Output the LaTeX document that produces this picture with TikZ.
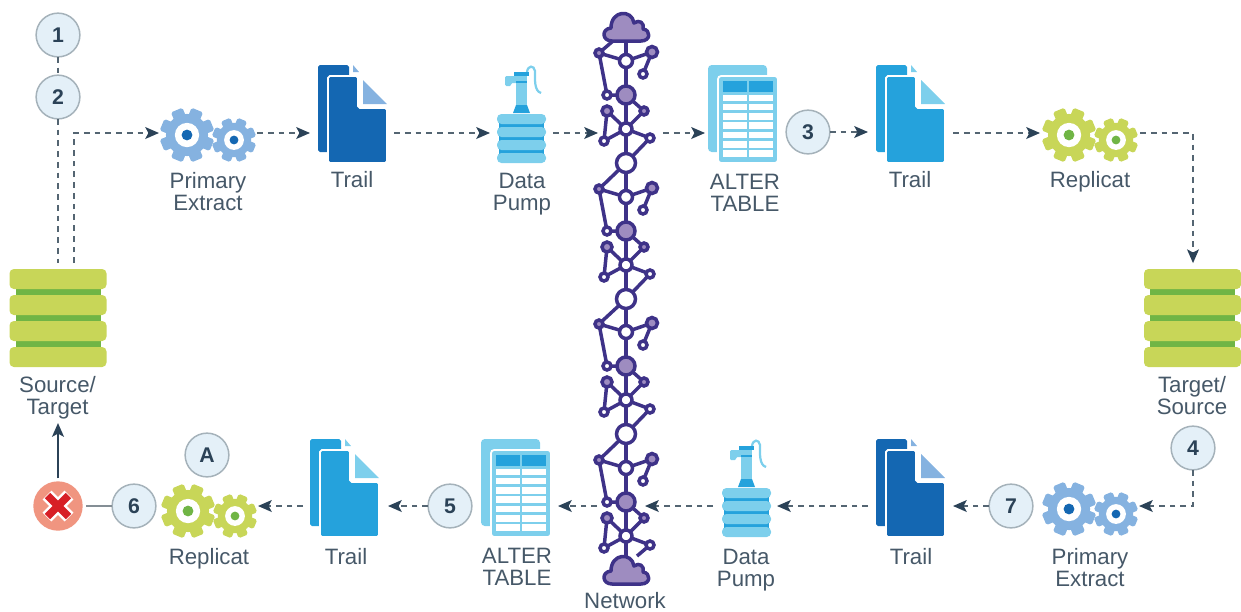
\documentclass[tikz,border=0pt]{standalone}
\usepackage{fontspec}
\setmainfont{Liberation Sans}
\usetikzlibrary{arrows.meta}

\definecolor{cinkblue}{RGB}{20,103,178}
\definecolor{cpaleblue}{RGB}{133,178,224}
\definecolor{cskyblue}{RGB}{37,162,220}
\definecolor{cpalesky}{RGB}{125,207,236}
\definecolor{climeback}{RGB}{200,214,88}
\definecolor{cgreen}{RGB}{112,181,69}
\definecolor{cnetline}{RGB}{62,50,136}
\definecolor{cnetfill}{RGB}{158,140,192}
\definecolor{cflow}{RGB}{84,101,114}
\definecolor{ctip}{RGB}{43,66,87}
\definecolor{clabel}{RGB}{70,88,104}
\definecolor{cbadge}{RGB}{228,240,248}
\definecolor{cbadgeline}{RGB}{165,178,186}
\definecolor{cerrback}{RGB}{240,149,128}
\definecolor{cerrmark}{RGB}{215,31,38}

\tikzset{
  iconbox/.style={inner sep=0pt,minimum width=#1*0.8pt,minimum height=48pt},
  badge/.style={circle,draw=cbadgeline,fill=cbadge,line width=1.2pt,inner sep=0pt,
    minimum size=35pt,text=ctip,font=\fontsize{17}{17}\selectfont\bfseries},
  caption/.style={align=center,text=clabel,font=\fontsize{17.8}{17.6}\selectfont},
  plainflow/.style={draw=cflow,line width=1.25pt,dash pattern=on 4.6pt off 4pt},
  flow/.style={plainflow,-{Stealth[length=11pt,width=9.5pt,inset=2.5pt,color=ctip]}},
  netdot/.style={circle,draw=cnetline,line width=2.8pt,inner sep=0pt,minimum size=#1*0.8pt},
  netlink/.style={draw=cnetline,line width=2.8pt},
}

% one cog: x, y, outer radius, body colour, centre colour
\newcommand{\cogwheel}[5]{
  \foreach \a in {22.5,67.5,...,360} {
    \fill[#4,shift={(#1,#2)},rotate=\a,rounded corners=1.4pt] (-0.23*#3,0) rectangle (0.23*#3,#3);
  }
  \fill[#4] (#1,#2) circle ({0.78*#3});
  \fill[white] (#1,#2) circle ({0.45*#3});
  \fill[#5] (#1,#2) circle ({0.2*#3});
}
% x, y of the big cog, body colour, centre colour
\newcommand{\cogpair}[4]{
  \cogwheel{#1}{#2}{27}{#3}{#4}
  \cogwheel{#1+47}{#2+5}{22}{#3}{#4}
}
% x, y of the top left corner, main colour, fold colour
\newcommand{\trailicon}[4]{
  \begin{scope}[shift={(#1,#2)}]
    \fill[#3,rounded corners=1.5pt] (0,0) rectangle (31,87);
    \fill[#4] (35,0) -- (41,7) -- (35,7) -- cycle;
    \path[fill=#3,draw=white,line width=1.5pt,rounded corners=1.5pt] (10,11) -- (40,11) --
      (40,43) -- (69,43) -- (69,98) -- (10,98) -- cycle;
    \fill[#4] (45,15) -- (69,39) -- (45,39) -- cycle;
  \end{scope}
}
% x, y, width, bar height, pitch, strip inset, bar colour, strip colour
\newcommand{\barstack}[8]{
  \fill[#8] ({#1+#6},{#2+5}) rectangle ({#1+#3-#6},{#2+3*#5+2});
  \foreach \k in {0,1,2,3} {
    \fill[#7,rounded corners=3.5pt] (#1,{#2+\k*#5}) rectangle ({#1+#3},{#2+\k*#5+#4});
  }
}
% x, y of the top left corner
\newcommand{\tableicon}[2]{
  \begin{scope}[shift={(#1,#2)}]
    \fill[cpalesky,rounded corners=3pt] (0,0) rectangle (59,87);
    \path[fill=cpalesky,draw=white,line width=1.5pt,rounded corners=2.5pt] (10,11) rectangle (70,98);
    \fill[cskyblue] (15,16) rectangle (39,27);
    \fill[cskyblue] (41,16) rectangle (65,27);
    \foreach \k in {0,...,6} {
      \fill[white] (15,{29.5+\k*9.3}) rectangle (39,{36+\k*9.3});
      \fill[white] (41,{29.5+\k*9.3}) rectangle (65,{36+\k*9.3});
    }
  \end{scope}
}
% x, y of the top left corner
\newcommand{\pumpicon}[2]{
  \barstack{#1}{#2+49}{49}{10}{13}{2}{cpalesky}{cskyblue}
  \begin{scope}[shift={(#1,#2)}]
    \draw[cpalesky,line width=1.8pt] (30,7) .. controls (31,0) and (37,0) .. (38,6) ..
      controls (38,14) and (37,26) .. (44,28);
    \fill[cpalesky,rounded corners=1pt] (8,11) -- (21,11) -- (21,18) -- (14,18) -- (14,21) -- (8,21) -- cycle;
    \fill[cpalesky] (19,9) rectangle (30,40);
    \fill[cskyblue] (17,7) rectangle (32,11);
    \fill[cskyblue] (19,16) rectangle (30,18);
    \fill[cskyblue] (19,40) -- (30,40) -- (33,48) -- (16,48) -- cycle;
  \end{scope}
}
% x, y of the middle of the flat bottom
\newcommand{\cloudicon}[2]{
  \path[shift={(#1,#2)},fill=cnetfill,draw=cnetline,line width=2.8pt,line join=round] (-14,0) ..
    controls (-24,0) and (-25,-12) .. (-15,-13) ..
    controls (-15,-31) and (6,-32) .. (8,-18) ..
    controls (13,-22) and (19,-18) .. (17,-12) ..
    controls (25,-11) and (25,0) .. (15,0) -- cycle;
}

\begin{document}
\begin{tikzpicture}[y=0.80pt, x=0.8pt,yscale=-1, inner sep=0pt, outer sep=0pt]
\useasboundingbox (0,0) rectangle (1241,611);

% source and target stacks
\barstack{9.5}{269}{97}{20}{26}{6}{climeback}{cgreen}
\barstack{1144}{269}{97}{20}{26}{6}{climeback}{cgreen}
\node[iconbox=97,minimum height=83pt] (srcdb) at (58,315) {};
\node[iconbox=97,minimum height=83pt] (tgtdb) at (1193,315) {};

% top row
\cogpair{187}{135}{cpaleblue}{cinkblue}
\trailicon{318}{65}{cinkblue}{cpaleblue}
\pumpicon{497}{65}
\tableicon{708}{65}
\trailicon{876}{65}{cskyblue}{cpalesky}
\cogpair{1069}{135}{climeback}{cgreen}
\node[iconbox=98] (extractA) at (208,133) {};
\node[iconbox=84] (trailA) at (352,133) {};
\node[iconbox=63] (pumpA) at (521.5,133) {};
\node[iconbox=65] (netA) at (630.5,133) {};
\node[iconbox=73] (alterA) at (741.5,133) {};
\node[iconbox=85] (trailB) at (910.5,133) {};
\node[iconbox=100] (replicatA) at (1090,133) {};

% bottom row
\cogpair{1069}{509}{cpaleblue}{cinkblue}
\trailicon{876}{439}{cinkblue}{cpaleblue}
\pumpicon{722}{439}
\tableicon{481}{439}
\trailicon{310}{439}{cskyblue}{cpalesky}
\cogpair{188}{511}{climeback}{cgreen}
\node[iconbox=97] (extractB) at (1090.5,506) {};
\node[iconbox=85] (trailC) at (910.5,506) {};
\node[iconbox=64] (pumpB) at (745,506) {};
\node[iconbox=48] (netB) at (621,506) {};
\node[iconbox=77] (alterB) at (519.5,506) {};
\node[iconbox=85] (trailD) at (345.5,506) {};
\node[iconbox=98] (replicatB) at (209,506) {};

% network column
\cloudicon{626}{41}
\cloudicon{626}{584}
\node[iconbox=46,minimum height=22pt] (cloudtop) at (626,27) {};
\node[iconbox=46,minimum height=22pt] (cloudbot) at (626,570) {};
\coordinate (cloudtopfoot) at (613,41);
\coordinate (cloudbotfoot) at (637,556);
\foreach \s/\y in {1/0,2/136,3/271,4/407} {
  \begin{scope}[shift={(0,\y)}]
    \node[netdot=8,fill=cnetfill] (na\s) at (599,53) {};
    \node[netdot=13,fill=white] (nb\s) at (626,61) {};
    \node[netdot=11,fill=cnetfill] (nc\s) at (652,52) {};
    \node[netdot=8,fill=white] (nd\s) at (643,74) {};
    \node[netdot=8,fill=white] (ne\s) at (607,95) {};
    \node[netdot=18,fill=cnetfill] (nf\s) at (626,95) {};
    \node[netdot=10,fill=cnetfill] (ng\s) at (607,111) {};
    \node[netdot=8,fill=cnetfill] (nh\s) at (644,111) {};
    \node[netdot=12,fill=white] (ni\s) at (626,129) {};
    \node[netdot=8,fill=white] (nj\s) at (604,141) {};
    \node[netdot=8,fill=white] (nk\s) at (650,138) {};
  \end{scope}
  \draw[netlink] (na\s) -- (nb\s) -- (nc\s) -- (nd\s);
  \draw[netlink] (na\s) -- (ne\s) -- (nf\s);
  \draw[netlink] (nb\s) -- (nf\s) -- (ni\s);
  \draw[netlink] (nf\s) -- (nh\s) -- (ni\s);
  \draw[netlink] (ng\s) -- (nj\s) -- (ni\s) -- (ng\s);
  \draw[netlink] (ni\s) -- (nk\s);
}
\foreach \s/\t/\y in {1/2/0,2/3/136,3/4/271} {
  \node[netdot=19,fill=white] (nl\s) at (626,{163+\y}) {};
  \draw[netlink] (ni\s) -- (nl\s) -- (nb\t);
  \draw[netlink] (nk\s) -- (nl\s) -- (na\t);
}
\draw[netlink] (cloudtop) -- (nb1);
\draw[netlink] (cloudtopfoot) -- (na1);
\draw[netlink] (ni4) -- (cloudbot);
\draw[netlink] (nk4) -- (cloudbotfoot);

% numbered steps
\node[badge] (step1) at (58,35) {1};
\node[badge] (step2) at (58,97) {2};
\node[badge] (step3) at (808,132) {3};
\node[badge] (step4) at (1193,448) {4};
\node[badge] (step5) at (450,506) {5};
\node[badge] (step6) at (134,506) {6};
\node[badge] (step7) at (1011,506) {7};
\node[badge] (stepA) at (207,455) {A};

% failed apply mark
\node[circle,fill=cerrback,minimum size=39.5pt,outer sep=2.4pt] (errmark) at (58,506) {};
\draw[white,line width=10pt] (47,495) -- (69,517) (69,495) -- (47,517);
\draw[cerrmark,line width=6pt] (47.5,495.5) -- (68.5,516.5) (68.5,495.5) -- (47.5,516.5);

% labels
\node[caption] (lblsource) at (57.5,398) {Source/\\Target};
\node[caption] (lbltarget) at (1192,396) {Target/\\Source};
\node[caption] (lblextractA) at (208,192) {Primary\\Extract};
\node[caption] (lbltrailA) at (352,180) {Trail};
\node[caption] (lblpumpA) at (522,194) {Data\\Pump};
\node[caption] (lblalterA) at (745,192.5) {ALTER\\TABLE};
\node[caption] (lbltrailB) at (910,180) {Trail};
\node[caption] (lblreplicatA) at (1090,182) {Replicat};
\node[caption] (lblreplicatB) at (209,559) {Replicat};
\node[caption] (lbltrailD) at (346,557) {Trail};
\node[caption] (lblalterB) at (517,567) {ALTER\\TABLE};
\node[caption] (lblnetwork) at (625,600.5) {Network};
\node[caption] (lblpumpB) at (746,570.5) {Data\\Pump};
\node[caption] (lbltrailC) at (911,557) {Trail};
\node[caption] (lblextractB) at (1090,568) {Primary\\Extract};

% connectors
\coordinate (srcleft) at (74,263);
\coordinate (srcfoot) at (58,423);
\draw[plainflow] (step1) -- (step2);
\draw[plainflow] (step2) -- (srcdb);
\draw[flow] (srcleft) |- (extractA.west);
\draw[flow] (extractA) -- (trailA);
\draw[flow] (trailA) -- (pumpA);
\draw[flow] (pumpA) -- (netA);
\draw[flow] (netA) -- (alterA);
\draw[flow] (step3.east) -- (trailB.west |- step3.east);
\draw[flow] (trailB) -- (replicatA);
\draw[flow] (replicatA.east) -| (tgtdb.north);
\draw[flow] (step4) |- (extractB.east);
\draw[flow] (step7) -- (trailC);
\draw[flow] (trailC) -- (pumpB);
\draw[flow] (pumpB) -- (netB);
\draw[flow] (netB) -- (alterB);
\draw[flow] (step5) -- (trailD);
\draw[flow] (trailD) -- (replicatB);
\draw[draw=cbadgeline!80!black,line width=1.6pt] (step6) -- (errmark);
\draw[draw=ctip,line width=1.5pt,-{Stealth[length=11pt,width=9.5pt,inset=2.5pt]}] (errmark) -- (srcfoot);
\end{tikzpicture}
\end{document}
